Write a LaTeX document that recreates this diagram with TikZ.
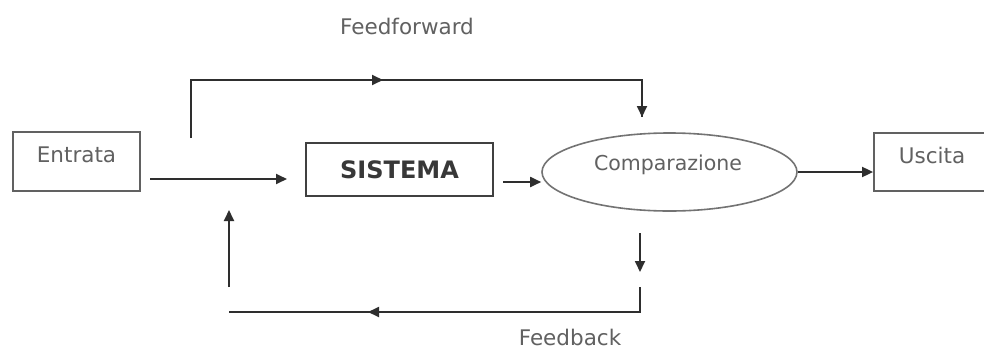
\documentclass[tikz,border=0pt]{standalone}
\usepackage{fontspec}
\setmainfont{DejaVu Sans}
\usetikzlibrary{arrows.meta,shapes.geometric}
\begin{document}
\begin{tikzpicture}[x=1pt,y=-1pt,
  tip/.tip={Triangle[length=11pt,width=10pt]},
  conn/.style={draw=black!82, line width=1.8pt, -tip},
  plain/.style={draw=black!82, line width=1.8pt},
  box/.style={draw=black!62, line width=1.8pt, inner sep=0pt, minimum width=#1},
  lbl/.style={text=black!62, font=\fontsize{21.5}{25}\selectfont, inner sep=0pt}
]
\fill[white] (0,0) rectangle (984,351);
\useasboundingbox (0,0) rectangle (984,351);
\clip (0,0) rectangle (984,351);

% boxes
\node[box=127pt, minimum height=59pt] (entrata) at (76.5,161.5) {};
\node[lbl] (entrataT) at (76.5,155) {Entrata};
\node[draw=black!75, line width=2.4pt, inner sep=0pt, minimum width=187pt, minimum height=53pt,
      text=black!78, font=\bfseries\fontsize{24}{28}\selectfont] (sistema) at (399.5,169.5) {SISTEMA};
\node[ellipse, draw=black!55, line width=1.6pt, minimum width=255pt, minimum height=78pt, inner sep=0pt] (comp) at (669.5,172) {};
\node[lbl, font=\fontsize{20.5}{24}\selectfont] (compT) at (668,165) {Comparazione};
\node[box=150pt, minimum height=58pt] (uscita) at (949,162) {};
\node[lbl] (uscitaT) at (932,155) {Uscita};

% labels
\node[lbl] (ffT) at (407,26) {Feedforward};
\node[lbl] (fbT) at (570,337) {Feedback};

% coordinates
\coordinate (inS) at (150,179);
\coordinate (inE) at (287,179);
\coordinate (sOut) at (503,182);
\coordinate (ffA) at (191,138);
\coordinate (ffB) at (191,80);
\coordinate (ffM) at (383,80);
\coordinate (ffC) at (642,80);
\coordinate (ffD) at (642,117);
\coordinate (fbA) at (640,233);
\coordinate (fbB) at (640,272);
\coordinate (fbC) at (640,287);
\coordinate (fbD) at (640,312);
\coordinate (fbM) at (368,312);
\coordinate (fbE) at (229,312);
\coordinate (upA) at (229,287);
\coordinate (upB) at (229,210);

% main flow
\draw[conn] (inS) -- (inE);
\draw[conn] (sOut) -- (sOut -| comp.west);
\draw[conn] (comp.east) -- (comp.east -| uscita.west);

% feedforward
\draw[plain] (ffA) -- (ffB) -- (ffC) -- (ffD);
\draw[conn] (ffB) -- (ffM);
\draw[conn] (ffC) -- (ffD);

% feedback
\draw[conn] (fbA) -- (fbB);
\draw[plain] (fbC) -- (fbD) -- (fbE);
\draw[conn] (fbD) -- (fbM);
\draw[conn] (upA) -- (upB);
\end{tikzpicture}
\end{document}
